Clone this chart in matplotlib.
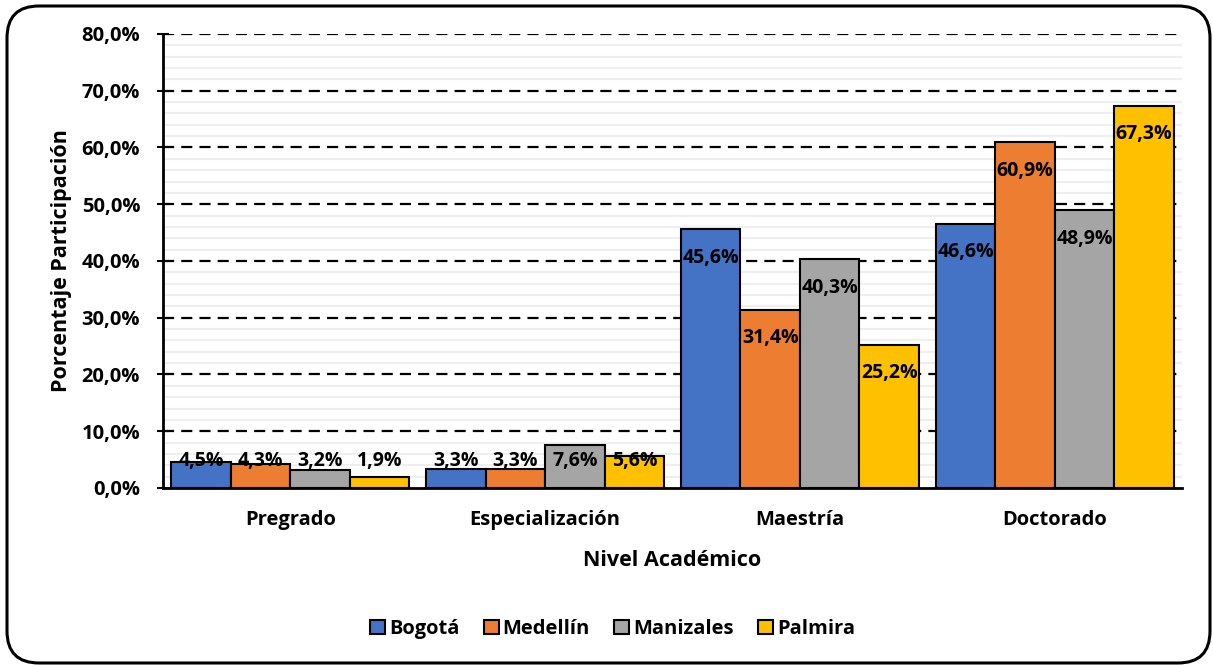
import numpy as np
from matplotlib import pyplot as plt
from matplotlib.patches import FancyBboxPatch, Patch

# Data
niveles = ['Pregrado', 'Especialización', 'Maestría', 'Doctorado']
sedes = ['Bogotá', 'Medellín', 'Manizales', 'Palmira']
bogota = [4.5, 3.3, 45.6, 46.6]
medellin = [4.3, 3.3, 31.4, 60.9]
manizales = [3.2, 7.6, 40.3, 48.9]
palmira = [1.9, 5.6, 25.2, 67.3]
colores = ['#4472C4', '#ED7D31', '#A5A5A5', '#FFC000']
series = [bogota, medellin, manizales, palmira]

plt.rcParams['font.family'] = ['Open Sans', 'DejaVu Sans']
plt.rcParams['font.weight'] = 'bold'

fs = 14.5
fig = plt.figure(figsize=(12.13, 6.65), dpi=100)
ax = fig.add_axes([0.1344, 0.2662, 0.8401, 0.6827])

# Rounded frame around the whole chart
frame = FancyBboxPatch((0.07, 0.02), 12.03, 6.57, boxstyle='round,pad=0,rounding_size=0.32',
                       transform=fig.dpi_scale_trans, fill=False, ec='black', lw=2.2, zorder=0)
fig.patches.append(frame)

# Grid lines
for v in np.arange(2, 80, 2):
    if v % 10:
        ax.axhline(v, color='#EFEFEF', lw=1.5, zorder=0)
for v in range(10, 81, 10):
    ax.axhline(v, color='black', lw=1.6, linestyle=(0, (5, 3.2)), zorder=1)

x = np.arange(len(niveles))
w = 0.2335
for i, (vals, c, name) in enumerate(zip(series, colores, sedes)):
    xs = x + (i - 1.5) * w
    ax.bar(xs, vals, w, color=c, edgecolor='black', lw=1.5, zorder=2, label=name)
    for xi, v in zip(xs, vals):
        ax.text(xi, max(v - 5.0, 4.8), f'{v:.1f}%'.replace('.', ','), ha='center', va='center',
                fontsize=14, fontweight='bold', zorder=3)

ax.set_xlim(-0.5, 3.5)
ax.set_ylim(0, 80)
ax.set_yticks(range(0, 81, 10))
ax.set_yticklabels([f'{v},0%' for v in range(0, 81, 10)], fontsize=fs, fontweight='bold')
ax.set_xticks(x)
ax.set_xticklabels(niveles, fontsize=fs, fontweight='bold')
ax.tick_params(axis='y', direction='inout', length=9, width=1.5, pad=12)
ax.tick_params(axis='x', length=0, pad=16)

for s in ['top', 'right']:
    ax.spines[s].set_visible(False)
for s in ['left', 'bottom']:
    ax.spines[s].set_linewidth(2)
    ax.spines[s].set_zorder(4)

ax.set_ylabel('Porcentaje Participación', fontsize=15.5, fontweight='bold', labelpad=7)
ax.set_xlabel('Nivel Académico', fontsize=15.5, fontweight='bold', labelpad=14)

handles = [Patch(facecolor=c, edgecolor='black', lw=1.5) for c in colores]
fig.legend(handles, sedes, loc='center', bbox_to_anchor=(0.505, 0.054), ncol=4, frameon=False,
           handlelength=0.75, handleheight=0.75, handletextpad=0.2, columnspacing=1.2,
           prop={'size': fs, 'weight': 'bold'})

fig.savefig('out.png', dpi=100)
